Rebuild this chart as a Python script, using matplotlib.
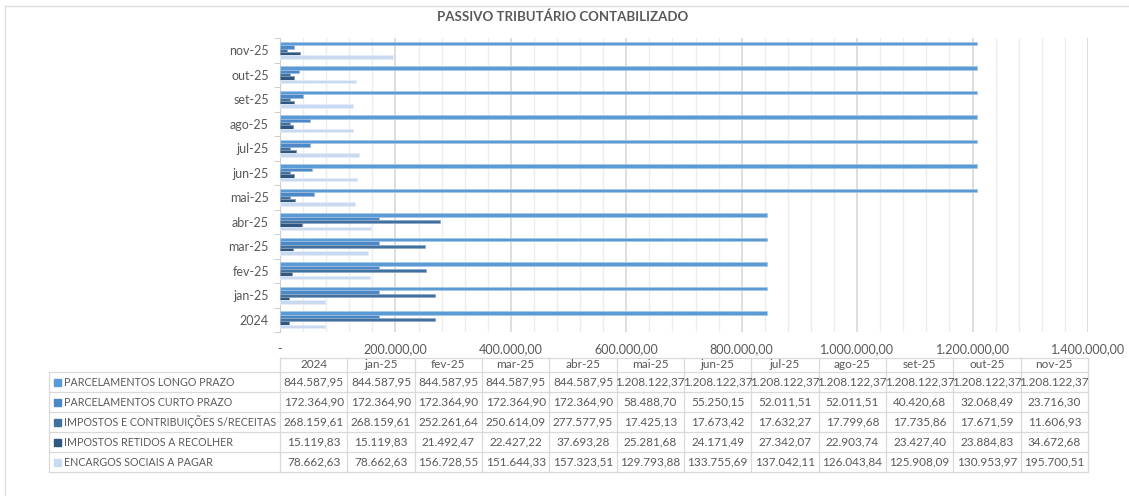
import matplotlib.pyplot as plt
from matplotlib.lines import Line2D
from matplotlib.patches import Rectangle
from matplotlib.ticker import FuncFormatter, MultipleLocator
import numpy as np

plt.rcParams['font.family'] = ['Lato', 'DejaVu Sans']

categories = ['2024', 'jan-25', 'fev-25', 'mar-25', 'abr-25', 'mai-25',
              'jun-25', 'jul-25', 'ago-25', 'set-25', 'out-25', 'nov-25']
series_names = ['PARCELAMENTOS LONGO PRAZO', 'PARCELAMENTOS CURTO PRAZO',
                'IMPOSTOS E CONTRIBUIÇÕES S/RECEITAS', 'IMPOSTOS RETIDOS A RECOLHER',
                'ENCARGOS SOCIAIS A PAGAR']
longo = [844587.95, 844587.95, 844587.95, 844587.95, 844587.95, 1208122.37,
         1208122.37, 1208122.37, 1208122.37, 1208122.37, 1208122.37, 1208122.37]
curto = [172364.90, 172364.90, 172364.90, 172364.90, 172364.90, 58488.70,
         55250.15, 52011.51, 52011.51, 40420.68, 32068.49, 23716.30]
impostos = [268159.61, 268159.61, 252261.64, 250614.09, 277577.95, 17425.13,
            17673.42, 17632.27, 17799.68, 17735.86, 17671.59, 11606.93]
retidos = [15119.83, 15119.83, 21492.47, 22427.22, 37693.28, 25281.68,
           24171.49, 27342.07, 22903.74, 23427.40, 23884.83, 34672.68]
encargos = [78662.63, 78662.63, 156728.55, 151644.33, 157323.51, 129793.88,
            133755.69, 137042.11, 126043.84, 125908.09, 130953.97, 195700.51]
colors = ['#5B9BD5', '#4C87C6', '#41729F', '#30577F', '#C9DAF0']
edges = ['#A9C8EA', '#9DBCE0', '#8FA9C8', '#8497AE', '#E3ECF8']

W, H = 1129, 496
txt = '#595959'


def fx(x):
    return x / W


def fy(y):
    return 1 - y / H


def br(v):
    s = f'{v:,.2f}'
    return s.replace(',', 'X').replace('.', ',').replace('X', '.')


fig = plt.figure(figsize=(W / 100, H / 100), dpi=100)
ax = fig.add_axes([fx(280), fy(332), fx(1088 - 280), (332 - 38) / H])

data = [longo, curto, impostos, retidos, encargos]
h = 0.135
y = np.arange(len(categories))
for i, vals in enumerate(data):
    ax.barh(y + (2 - i) * h, vals, height=h, color=colors[i],
            edgecolor=edges[i], linewidth=0.6, zorder=3)

ax.set_xlim(0, 1400000)
ax.set_ylim(-0.5, len(categories) - 0.5)
ax.xaxis.set_major_locator(MultipleLocator(200000))
ax.xaxis.set_minor_locator(MultipleLocator(40000))
ax.xaxis.set_major_formatter(FuncFormatter(lambda v, p: '-' if v == 0 else br(v)))
ax.grid(axis='x', which='major', color='#D4D4D4', linewidth=1.1, zorder=0)
ax.grid(axis='x', which='minor', color='#EDEDED', linewidth=1.0, zorder=0)
ax.tick_params(axis='x', which='both', length=0, pad=8, labelsize=9, labelcolor=txt)

ax.set_yticks(y)
ax.set_yticklabels(categories)
ax.set_yticks(np.arange(len(categories) + 1) - 0.5, minor=True)
ax.tick_params(axis='y', which='major', length=0, pad=8, labelsize=9, labelcolor=txt)
ax.tick_params(axis='y', which='minor', length=4, color='#D0D0D0', width=0.8)

for s in ['top', 'right', 'bottom']:
    ax.spines[s].set_visible(False)
ax.spines['left'].set_color('#D0D0D0')

fig.text(fx(563), fy(17), 'PASSIVO TRIBUTÁRIO CONTABILIZADO', ha='center', va='center',
         fontsize=9.5, fontweight='bold', color=txt)

# data table below the chart
grid_c = '#D9D9D9'
col_w = (1088 - 280) / len(categories)
rows = [358, 372, 392, 412, 432, 452, 472]


def line(x0, y0, x1, y1, c=grid_c, lw=0.9):
    fig.add_artist(Line2D([fx(x0), fx(x1)], [fy(y0), fy(y1)], color=c, linewidth=lw))


line(280, rows[0], 1088, rows[0])
for r in rows[1:]:
    line(49, r, 1088, r)
for j in range(len(categories) + 1):
    line(280 + j * col_w, rows[0], 280 + j * col_w, rows[-1])
line(49, rows[1], 49, rows[-1])

for j, c in enumerate(categories):
    fig.text(fx(280 + (j + 0.5) * col_w), fy((rows[0] + rows[1]) / 2), c,
             ha='center', va='center', fontsize=8.5, color=txt)

for i, name in enumerate(series_names):
    yc = (rows[i + 1] + rows[i + 2]) / 2
    fig.add_artist(Rectangle((fx(54), fy(yc + 3.5)), 7 / W, 7 / H,
                             transform=fig.transFigure, color=colors[i]))
    fig.text(fx(64), fy(yc), name, ha='left', va='center', fontsize=7.7, color=txt)
    for j, v in enumerate(data[i]):
        fig.text(fx(280 + (j + 0.5) * col_w), fy(yc), br(v),
                 ha='center', va='center', fontsize=8.5, color=txt)

# outer frame of the sheet object
line(5, 6, W, 6, c='#E0E0E0', lw=1.0)
line(5, 6, 5, H, c='#E0E0E0', lw=1.0)

fig.savefig('out.png', dpi=100)
